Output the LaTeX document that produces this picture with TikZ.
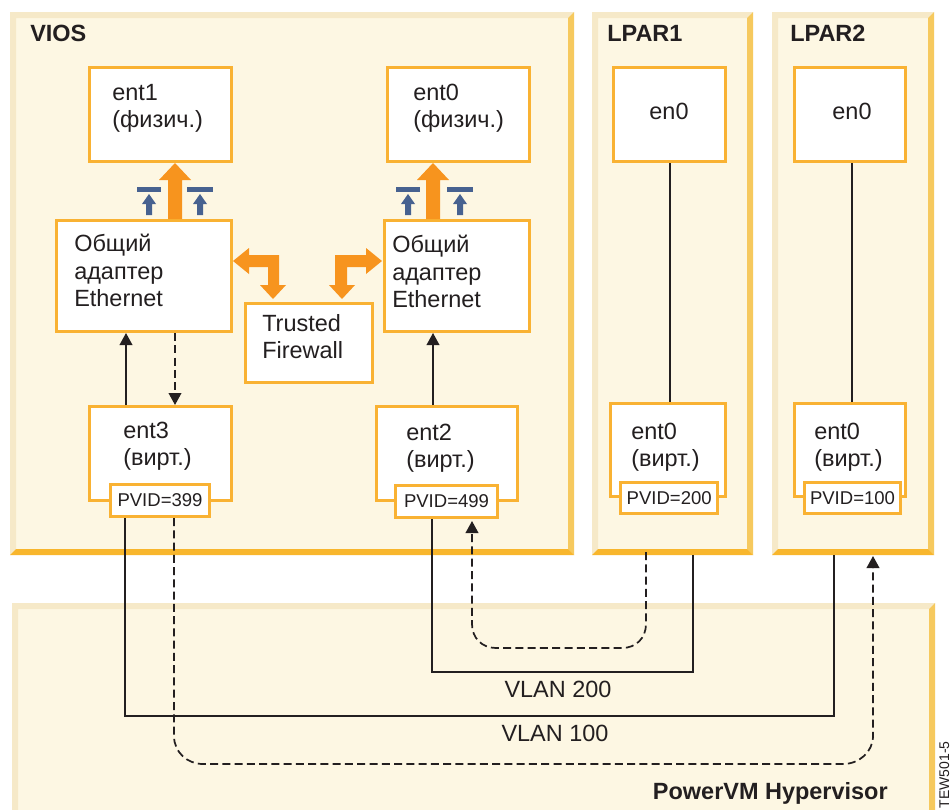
\documentclass[tikz,border=0pt]{standalone}
\usepackage{fontspec}
\setmainfont{Liberation Sans}
\usetikzlibrary{arrows.meta}
\definecolor{panelfill}{HTML}{FDF7E3}
\definecolor{bevellight}{HTML}{F6E9C8}
\definecolor{bevelright}{HTML}{F6C95E}
\definecolor{bevelbottom}{HTML}{F8B62D}
\definecolor{boxline}{HTML}{F9B233}
\definecolor{arroworange}{HTML}{F7941E}
\definecolor{arrowblue}{HTML}{476290}
\definecolor{ink}{HTML}{231F20}
\tikzset{
  x=0.75pt,y=-0.75pt,
  boxnode/.style={draw=boxline,fill=white,line width=2.25pt,inner sep=0pt,anchor=north west},
  lbl/.style={text=ink,font=\fontsize{17.6}{20.6}\selectfont,align=left,inner sep=0pt,anchor=west},
  ctr/.style={text=ink,font=\fontsize{17.6}{20.3}\selectfont,inner sep=0pt},
  pvid/.style={text=ink,font=\fontsize{13.9}{16}\selectfont},
  ttl/.style={text=ink,font=\fontsize{17.6}{20.3}\selectfont\bfseries,inner sep=0pt},
  wire/.style={draw=ink,line width=1.15pt},
  dashwire/.style={draw=ink,line width=1.3pt,dash pattern=on 6pt off 3.2pt},
  tipped/.style={-{Triangle[length=9pt,width=9.5pt]}},
}
\newcommand{\panelbox}[4]{% x1 y1 x2 y2
  \fill[panelfill] (#1,#2) rectangle (#3,#4);
  \fill[bevellight] (#1,#2) -- (#3,#2) -- (#3-6,#2+6) -- (#1+6,#2+6) -- (#1+6,#4-6) -- (#1,#4) -- cycle;
  \fill[bevelright] (#3,#2) -- (#3,#4) -- (#3-6,#4-6) -- (#3-6,#2+6) -- cycle;
  \fill[bevelbottom] (#1,#4) -- (#3,#4) -- (#3-6,#4-6) -- (#1+6,#4-6) -- cycle;
}
\newcommand{\bluemark}[2]{% arrow x, half bar
  \fill[arrowblue] (#1-#2,187) rectangle (#1+#2,192);
  \fill[arrowblue] (#1,194) -- (#1+7,204) -- (#1+3,204) -- (#1+3,215) -- (#1-3,215) -- (#1-3,204) -- (#1-7,204) -- cycle;
}
\newcommand{\uparrowbig}[1]{%
  \fill[arroworange] (#1,163) -- (#1+16,180) -- (#1+7,180) -- (#1+7,219) -- (#1-7,219) -- (#1-7,180) -- (#1-16,180) -- cycle;
}
\begin{document}
\begin{tikzpicture}
\useasboundingbox (0,0) rectangle (950,810);
\clip (0,0) rectangle (950,810);
\fill[white] (0,0) rectangle (950,810);
% panels
\panelbox{10}{12}{574}{555}
\panelbox{592}{12}{753}{555}
\panelbox{772}{12}{934}{555}
\panelbox{12}{603}{935}{830}
\node[ttl,anchor=west] (viosT) at (30,33) {VIOS};
\node[ttl,anchor=west] (lpar1T) at (607,33) {LPAR1};
\node[ttl,anchor=west] (lpar2T) at (790,33) {LPAR2};
\node[ttl,anchor=east] (hypT) at (888,793) {PowerVM Hypervisor};
% boxes
\node[boxnode,minimum width=106.5pt,minimum height=70.5pt] (ent1) at (88,66) {};
\node[boxnode,minimum width=106.5pt,minimum height=70.5pt] (ent0p) at (386,66) {};
\node[boxnode,minimum width=84pt,minimum height=70.5pt] (en0a) at (612,66) {};
\node[boxnode,minimum width=83.25pt,minimum height=70.5pt] (en0b) at (793,66) {};
\node[boxnode,minimum width=131.25pt,minimum height=83.25pt] (sea1) at (55,219) {};
\node[boxnode,minimum width=108.75pt,minimum height=83.25pt] (sea2) at (383,219) {};
\node[boxnode,minimum width=95.25pt,minimum height=59.25pt] (fw) at (243.5,301.5) {};
\node[boxnode,minimum width=106.5pt,minimum height=70.5pt] (ent3) at (88,405) {};
\node[boxnode,minimum width=105.75pt,minimum height=70.5pt] (ent2) at (375,405) {};
\node[boxnode,minimum width=86.25pt,minimum height=69.75pt] (ent0a) at (609,402) {};
\node[boxnode,minimum width=83.25pt,minimum height=69.75pt] (ent0b) at (793,402) {};
\node[boxnode,pvid,minimum width=74.25pt,minimum height=24pt] (p399) at (109,483) {PVID=399};
\node[boxnode,pvid,minimum width=76.5pt,minimum height=24pt] (p499) at (394,484) {PVID=499};
\node[boxnode,pvid,minimum width=73pt,minimum height=23.25pt] (p200) at (619,481) {PVID=200};
\node[boxnode,pvid,minimum width=72pt,minimum height=23.25pt] (p100) at (803,481) {PVID=100};
% box texts
\node[lbl] (t1) at (112,108.5) {ent1\\(физич.)};
\node[lbl] (t2) at (413,108.5) {ent0\\(физич.)};
\node[ctr] (t3) at (669,111) {en0};
\node[ctr] (t4) at (852,111) {en0};
\node[lbl] (t5) at (74,270.5) {Общий\\адаптер\\Ethernet};
\node[lbl] (t6) at (392,271.5) {Общий\\адаптер\\Ethernet};
\node[lbl] (t7) at (262,336.5) {Trusted\\Firewall};
\node[lbl] (t8) at (123,446.5) {ent3\\(вирт.)};
\node[lbl] (t9) at (406,448.5) {ent2\\(вирт.)};
\node[lbl] (t10) at (631,447.5) {ent0\\(вирт.)};
\node[lbl] (t11) at (814,447.5) {ent0\\(вирт.)};
\node[ctr] (v200) at (558,689) {VLAN 200};
\node[ctr] (v100) at (555,733) {VLAN 100};
\node[text=ink,font=\fontsize{10.5}{11}\selectfont,inner sep=0pt,rotate=90,anchor=base west] (tew) at (949,808.5) {TEW501-5};
% big arrows
\uparrowbig{175}
\uparrowbig{433}
\bluemark{149}{12}
\bluemark{200}{13}
\bluemark{408}{12}
\bluemark{460}{13}
\fill[arroworange] (233,261) -- (249,248) -- (249,255) -- (279,255) -- (279,285) -- (286,285) -- (273,299) -- (260,285) -- (268,285) -- (268,267) -- (249,267) -- (249,274) -- cycle;
\fill[arroworange] (382,261) -- (366,248) -- (366,255) -- (335,255) -- (335,285) -- (329,285) -- (342,299) -- (355,285) -- (347,285) -- (347,267) -- (366,267) -- (366,274) -- cycle;
% connectors
\coordinate (a3) at (126,406);
\draw[wire,tipped] (ent3.north -| a3) -- (sea1.south -| a3);
\coordinate (d3) at (175,331);
\draw[dashwire,tipped] (sea1.south -| d3) -- (ent3.north -| d3);
\coordinate (a2) at (433,406);
\draw[wire,tipped] (ent2.north -| a2) -- (sea2.south -| a2);
\coordinate (w1) at (670,300);
\coordinate (w2) at (852,300);
\draw[wire] (en0a.south -| w1) -- (ent0a.north -| w1);
\draw[wire] (en0b.south -| w2) -- (ent0b.north -| w2);
% VLAN 100
\coordinate (c100a) at (125,517);
\coordinate (c100b) at (834,555);
\draw[wire] (p399.south -| c100a) -- (125,716) -- (834,716) -- (c100b);
% VLAN 200
\coordinate (c200a) at (432,518);
\coordinate (c200b) at (693,555);
\draw[wire] (p499.south -| c200a) -- (432,672) -- (693,672) -- (c200b);
% dashed
\coordinate (da) at (174,518);
\coordinate (db) at (873,556);
\draw[dashwire,tipped] (p399.south -| da) -- (174,736) .. controls (174,752) and (187,764) .. (203,764) -- (843,764) .. controls (859,764) and (873,752) .. (873,736) -- (db);
\coordinate (ea) at (646,552);
\coordinate (eb) at (472,521);
\draw[dashwire,tipped] (ea) -- (646,624) .. controls (646,638) and (636,648) .. (622,648) -- (496,648) .. controls (482,648) and (472,638) .. (472,624) -- (eb);
\end{tikzpicture}
\end{document}
